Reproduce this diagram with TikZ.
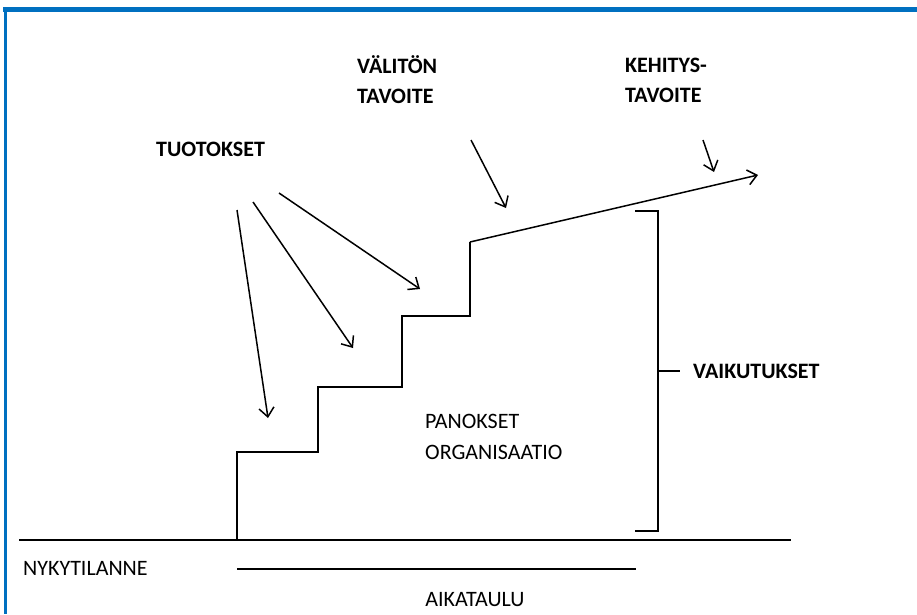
\documentclass[tikz,border=0pt]{standalone}
\usepackage{fontspec}
\setmainfont{Carlito}
\usetikzlibrary{arrows.meta}
\definecolor{frameblue}{HTML}{0070C0}
\begin{document}
\begin{tikzpicture}[x=1pt,y=-1pt,
  thinline/.style={line width=1.2pt, black},
  lbl/.style={font=\fontsize{22}{30}\selectfont\bfseries, inner sep=0pt, align=left},
  txt/.style={font=\fontsize{22}{31}\selectfont, inner sep=0pt, align=left},
  arr/.style={line width=1.5pt, -{Straight Barb[length=9pt,width=15pt,line width=1.5pt]}}]
\useasboundingbox (0,0) rectangle (917,614);
% frame
\draw[frameblue, line width=4.5pt] (3,9.5) -- (917,9.5);
\draw[frameblue, line width=3.5pt] (5.5,8) -- (5.5,614);
% texts
\node[lbl, anchor=west] (tuo) at (156,149) {TUOTOKSET};
\node[lbl, anchor=west] (val) at (357,80) {VÄLITÖN\\TAVOITE};
\node[lbl, anchor=west] (keh) at (625,80) {KEHITYS-\\TAVOITE};
\node[lbl, anchor=west] (vai) at (693,371) {VAIKUTUKSET};
\node[txt, anchor=west] (pan) at (425,437) {PANOKSET\\ORGANISAATIO};
\node[txt, anchor=west] (nyk) at (23,568) {NYKYTILANNE};
\node[txt] (aik) at (475,600) {AIKATAULU};
% coordinates
\coordinate (b0) at (19,540);
\coordinate (b1) at (791,540);
\coordinate (s0) at (237,540);
\coordinate (s1) at (237,452);
\coordinate (s2) at (318,452);
\coordinate (s3) at (318,387);
\coordinate (s4) at (402,387);
\coordinate (s5) at (402,316);
\coordinate (s6) at (470,316);
\coordinate (s7) at (470,242);
\coordinate (s8) at (758,175);
\coordinate (t1a) at (237,210);
\coordinate (t1b) at (268,418);
\coordinate (t2a) at (253,202);
\coordinate (t2b) at (353,348);
\coordinate (t3a) at (279,193);
\coordinate (t3b) at (420,289);
\coordinate (v1a) at (471,140);
\coordinate (v1b) at (506,208);
\coordinate (k1a) at (703,140);
\coordinate (k1b) at (714,172);
\coordinate (br0) at (635,211);
\coordinate (br1) at (658,211);
\coordinate (br2) at (658,531);
\coordinate (br3) at (635,531);
\coordinate (brm) at (658,371);
\coordinate (brt) at (680,371);
\coordinate (a0) at (237,569);
\coordinate (a1) at (636,569);
% baseline and schedule line
\draw[thinline] (b0) -- (b1);
\draw[thinline] (a0) -- (a1);
% staircase
\draw[thinline] (s0) -- (s1) -- (s2) -- (s3) -- (s4) -- (s5) -- (s6) -- (s7);
\draw[arr] (s7) -- (s8);
% arrows
\draw[arr] (t1a) -- (t1b);
\draw[arr] (t2a) -- (t2b);
\draw[arr] (t3a) -- (t3b);
\draw[arr] (v1a) -- (v1b);
\draw[arr] (k1a) -- (k1b);
% bracket
\draw[thinline] (br0) -- (br1) -- (br2) -- (br3);
\draw[thinline] (brm) -- (brt);
\end{tikzpicture}
\end{document}
